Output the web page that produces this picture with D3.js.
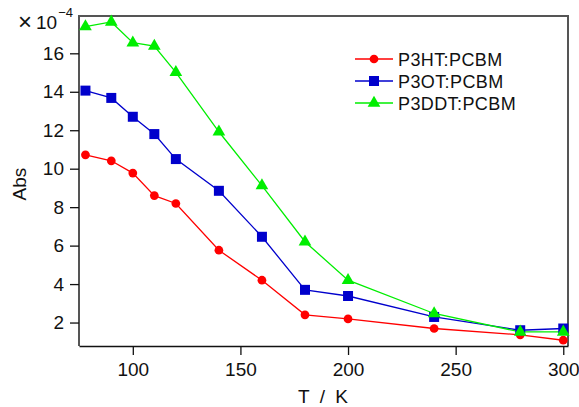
<!DOCTYPE html>
<html>
<head>
<meta charset="utf-8">
<script src="https://cdn.jsdelivr.net/npm/d3@7/dist/d3.min.js"></script>
<style>
  body { margin: 0; background: #fff; }
  text { font-family: "Liberation Sans", Arial, sans-serif; fill: #111; }
</style>
</head>
<body>
<div id="chart"></div>
<script>
// 数据 (Abs 单位 ×10^-4)
var temps = [78, 90, 100, 110, 120, 140, 160, 180, 200, 240, 280, 300];
var p3ht = [10.72, 10.41, 9.77, 8.6, 8.19, 5.76, 4.2, 2.4, 2.19, 1.69, 1.36, 1.08];
var p3ot = [14.06, 13.68, 12.7, 11.8, 10.5, 8.85, 6.46, 3.7, 3.38, 2.29, 1.6, 1.69];
var p3ddt = [17.39, 17.63, 16.55, 16.38, 15.01, 11.92, 9.12, 6.2, 4.2, 2.47, 1.51, 1.51];
var seriesNames = ["P3HT:PCBM", "P3OT:PCBM", "P3DDT:PCBM"];
var xTicks = [100, 150, 200, 250, 300];
var yTicks = [2, 4, 6, 8, 10, 12, 14, 16];

var width = 579, height = 407;
var margin = { top: 16, right: 11, bottom: 61, left: 79 };
var plotWidth = width - margin.left - margin.right;
var plotHeight = height - margin.top - margin.bottom;

var svg = d3.select('#chart').append('svg')
  .attr('width', width)
  .attr('height', height);

var xScale = d3.scaleLinear().domain([75, 302.2]).range([0, plotWidth]);
var yScale = d3.scaleLinear().domain([0.78, 17.94]).range([plotHeight, 0]);

var plot = svg.append('g')
  .attr('transform', `translate(${margin.left}, ${margin.top})`);

// 边框
plot.append('path')
  .attr('d', `M0,${plotHeight}V0H${plotWidth}V${plotHeight}`)
  .attr('fill', 'none')
  .attr('stroke', '#555')
  .attr('stroke-width', 2);

// x 坐标轴
var xAxis = d3.axisBottom(xScale).tickValues(xTicks).tickSize(9).tickPadding(8).tickSizeOuter(0);
var gx = plot.append('g')
  .attr('transform', `translate(0, ${plotHeight})`)
  .call(xAxis);
gx.select('.domain').attr('stroke', '#111').attr('stroke-width', 1.5);
gx.selectAll('.tick line').attr('stroke', '#111').attr('stroke-width', 1.3);
gx.selectAll('.tick text').attr('font-size', 19).style('font-family', '"Liberation Sans", Arial, sans-serif').attr('fill', '#111');

// y 坐标轴
var yAxis = d3.axisLeft(yScale).tickValues(yTicks).tickSize(9).tickPadding(6).tickSizeOuter(0);
var gy = plot.append('g').call(yAxis);
gy.select('.domain').remove();
gy.selectAll('.tick line').attr('stroke', '#111').attr('stroke-width', 1.3);
gy.selectAll('.tick text').attr('font-size', 19).style('font-family', '"Liberation Sans", Arial, sans-serif').attr('fill', '#111');

// 轴标签
svg.append('text')
  .attr('x', 323)
  .attr('y', 403)
  .attr('text-anchor', 'middle')
  .attr('font-size', 19)
  .attr('word-spacing', 5)
  .text('T / K');

svg.append('text')
  .attr('transform', 'translate(26, 184) rotate(-90)')
  .attr('text-anchor', 'middle')
  .attr('font-size', 19)
  .text('Abs');

var mult = svg.append('text')
  .attr('x', 18)
  .attr('y', 29)
  .attr('font-size', 19);
mult.append('tspan').attr('font-size', 24).attr('dy', 1).text('×');
mult.append('tspan').attr('dx', 4).attr('dy', -1).text('10');
mult.append('tspan').attr('font-size', 13).attr('dx', 1).attr('dy', -12).text('−4');

// 系列
var series = [
  { name: seriesNames[0], values: p3ht, color: '#ff0000', shape: d3.symbolCircle, size: 60 },
  { name: seriesNames[1], values: p3ot, color: '#0000cc', shape: d3.symbolSquare, size: 100 },
  { name: seriesNames[2], values: p3ddt, color: '#00ee00', shape: d3.symbolTriangle, size: 70 }
];

var line = d3.line()
  .x((d, i) => xScale(temps[i]))
  .y(d => yScale(d));

series.forEach(function(s) {
  plot.append('path')
    .datum(s.values)
    .attr('d', line)
    .attr('fill', 'none')
    .attr('stroke', s.color)
    .attr('stroke-width', 1.3);
});
series.forEach(function(s) {
  plot.selectAll(null)
    .data(s.values)
    .join('path')
    .attr('transform', (d, i) => `translate(${xScale(temps[i])}, ${yScale(d)})`)
    .attr('d', d3.symbol().type(s.shape).size(s.size))
    .attr('fill', s.color);
});

// 图例
var legend = svg.append('g').attr('transform', 'translate(355, 59)');
series.forEach(function(s, i) {
  var row = legend.append('g').attr('transform', `translate(0, ${i * 22})`);
  row.append('line')
    .attr('x1', 0).attr('x2', 38)
    .attr('stroke', s.color).attr('stroke-width', 1.3);
  row.append('path')
    .attr('transform', 'translate(19, 0)')
    .attr('d', d3.symbol().type(s.shape).size(s.size))
    .attr('fill', s.color);
  row.append('text')
    .attr('x', 43)
    .attr('y', 6.5)
    .attr('font-size', 18)
    .attr('letter-spacing', 0.4)
    .text(s.name);
});
</script>
</body>
</html>
